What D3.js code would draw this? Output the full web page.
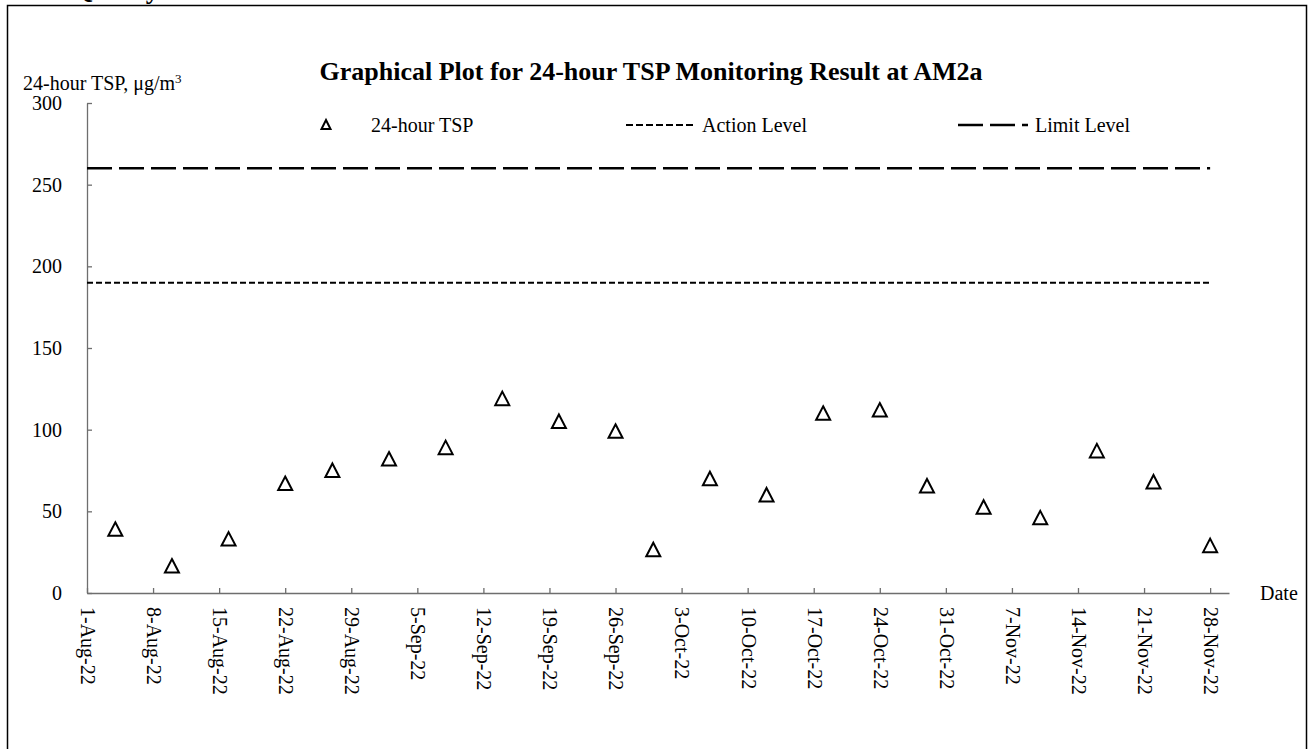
<!DOCTYPE html>
<html>
<head>
<meta charset="utf-8">
<script src="https://cdn.jsdelivr.net/npm/d3@7"></script>
<style>
  body { margin: 0; background: #fff; }
  text { font-family: 'Times New Roman', 'Liberation Serif', serif; fill: #000; }
</style>
</head>
<body>
<div id="chart"></div>
<script>
// readings for each sampling day
const sampleDates = ['2022-08-04', '2022-08-10', '2022-08-16', '2022-08-22', '2022-08-27',
  '2022-09-02', '2022-09-08', '2022-09-14', '2022-09-20', '2022-09-26', '2022-09-30',
  '2022-10-06', '2022-10-12', '2022-10-18', '2022-10-24', '2022-10-29',
  '2022-11-04', '2022-11-10', '2022-11-16', '2022-11-22', '2022-11-28']
const tspValues = [39, 16.5, 33, 67, 75, 82, 89, 119, 105, 99, 26.5,
  70, 60, 110, 112, 65.5, 52.5, 46, 87, 68, 29]

const actionLevel = 190
const limitLevel = 260
const levelSpan = ['2022-08-01', '2022-11-28']
const axisSpan = ['2022-08-01', '2022-11-30']
const yTicks = [0, 50, 100, 150, 200, 250, 300]

const width = 1314
const height = 749
const margin = { top: 103, right: 85, bottom: 156, left: 87 }
const parse = d3.timeParse('%Y-%m-%d')
const fmt = d3.timeFormat('%-d-%b-%y')

const svg = d3.select('#chart')
  .append('svg')
  .attr('width', width)
  .attr('height', height)

// outer frame and clipped heading above it
svg.append('text')
  .attr('x', 27)
  .attr('y', -2)
  .style('font-size', '27px')
  .style('font-weight', 'bold')
  .text('Air Quality')

svg.append('rect')
  .attr('x', 7.5)
  .attr('y', 5.5)
  .attr('width', 1299)
  .attr('height', 770)
  .attr('fill', 'none')
  .attr('stroke', '#000')
  .attr('stroke-width', 1.5)

svg.append('text')
  .attr('x', 651)
  .attr('y', 80)
  .attr('text-anchor', 'middle')
  .style('font-size', '26px')
  .style('font-weight', 'bold')
  .text('Graphical Plot for 24-hour TSP Monitoring Result at AM2a')

const yLab = svg.append('text')
  .attr('x', 23)
  .attr('y', 90)
  .style('font-size', '20px')
yLab.append('tspan').text('24-hour TSP, \u03bcg/m')
yLab.append('tspan').attr('dy', -7).style('font-size', '13px').text('3')

const x = d3.scaleTime()
  .domain(axisSpan.map(parse))
  .range([margin.left, width - margin.right])

const y = d3.scaleLinear()
  .domain([0, 300])
  .range([height - margin.bottom, margin.top])

// x axis with inward ticks and vertical labels
const xTicks = d3.timeDay.range(parse('2022-08-01'), parse('2022-11-29'), 7)
const xAxis = svg.append('g')
  .attr('transform', 'translate(0,' + y(0) + ')')
  .call(d3.axisBottom(x).tickValues(xTicks).tickSize(-5).tickSizeOuter(0).tickFormat(fmt))
xAxis.select('.domain').attr('stroke', '#6e6e6e').attr('stroke-width', 1.3)
xAxis.selectAll('.tick line').attr('stroke', '#6e6e6e').attr('stroke-width', 1.3)
xAxis.selectAll('.tick text')
  .style('font-size', '20px')
  .attr('text-anchor', 'start')
  .attr('transform', 'rotate(90)')
  .attr('x', 14)
  .attr('y', 0)
  .attr('dy', '0.33em')

const yAxis = svg.append('g')
  .attr('transform', 'translate(' + margin.left + ',0)')
  .call(d3.axisLeft(y).tickValues(yTicks).tickSize(-5).tickSizeOuter(0))
yAxis.select('.domain').attr('stroke', '#6e6e6e').attr('stroke-width', 1.3)
yAxis.selectAll('.tick line').attr('stroke', '#6e6e6e').attr('stroke-width', 1.3)
yAxis.selectAll('.tick text')
  .style('font-size', '20px')
  .attr('x', -25)

svg.append('text')
  .attr('x', 1260)
  .attr('y', y(0))
  .attr('dy', '0.35em')
  .style('font-size', '20px')
  .text('Date')

// action and limit lines
const levelLine = function (v) {
  return d3.line()
    .x(function (d) { return x(parse(d)) })
    .y(function () { return y(v) })(levelSpan)
}

svg.append('path')
  .attr('d', levelLine(actionLevel))
  .attr('fill', 'none')
  .attr('stroke', '#000')
  .attr('stroke-width', 2)
  .attr('stroke-dasharray', '6,3')

svg.append('path')
  .attr('d', levelLine(limitLevel))
  .attr('fill', 'none')
  .attr('stroke', '#000')
  .attr('stroke-width', 2.5)
  .attr('stroke-dasharray', '25,7')

// open triangle markers
const tri = 'M0,-7L7,6.5L-7,6.5Z'

svg.append('g')
  .selectAll('path')
  .data(sampleDates)
  .join('path')
  .attr('d', tri)
  .attr('transform', function (d, i) {
    return 'translate(' + x(parse(d)) + ',' + y(tspValues[i]) + ')'
  })
  .attr('fill', '#fff')
  .attr('stroke', '#000')
  .attr('stroke-width', 2)

// legend
const legY = 125
svg.append('path')
  .attr('d', 'M0,-5L4.5,4L-4.5,4Z')
  .attr('transform', 'translate(326,' + legY + ')')
  .attr('fill', '#fff')
  .attr('stroke', '#000')
  .attr('stroke-width', 2)
svg.append('text').attr('x', 371).attr('y', legY).attr('dy', '0.35em')
  .style('font-size', '20px').text('24-hour TSP')

svg.append('line')
  .attr('x1', 626).attr('x2', 695).attr('y1', legY).attr('y2', legY)
  .attr('stroke', '#000').attr('stroke-width', 2).attr('stroke-dasharray', '7,3')
svg.append('text').attr('x', 702).attr('y', legY).attr('dy', '0.35em')
  .style('font-size', '20px').text('Action Level')

svg.append('line')
  .attr('x1', 958).attr('x2', 1028).attr('y1', legY).attr('y2', legY)
  .attr('stroke', '#000').attr('stroke-width', 2.5).attr('stroke-dasharray', '25,7')
svg.append('text').attr('x', 1035).attr('y', legY).attr('dy', '0.35em')
  .style('font-size', '20px').text('Limit Level')
</script>
</body>
</html>
